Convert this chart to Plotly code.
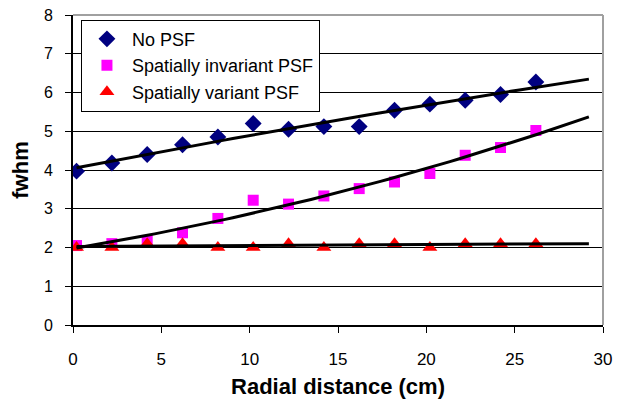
import numpy as np
import plotly.graph_objects as go

radial = [0.2, 2.2, 4.2, 6.2, 8.2, 10.2, 12.2, 14.2, 16.2, 18.2, 20.2, 22.2, 24.2, 26.2]
no_psf = [3.97, 4.18, 4.4, 4.65, 4.85, 5.2, 5.05, 5.12, 5.12, 5.54, 5.7, 5.8, 5.95, 6.27]
invariant = [2.05, 2.1, 2.18, 2.38, 2.75, 3.22, 3.12, 3.33, 3.52, 3.69, 3.91, 4.38, 4.58, 5.02]
variant = [2.0, 2.0, 2.1, 2.1, 2.0, 2.0, 2.1, 2.0, 2.1, 2.1, 2.0, 2.1, 2.1, 2.1]
trend_end = 29.2

fig = go.Figure()
fig.add_trace(go.Scatter(x=radial, y=no_psf, mode="markers", name="No PSF", legendgroup="a",
                         marker=dict(symbol="diamond", color="#000080", size=13)))
fig.add_trace(go.Scatter(x=radial, y=invariant, mode="markers", name="Spatially invariant PSF",
                         legendgroup="b",
                         marker=dict(symbol="square", color="#FF00FF", size=11)))
fig.add_trace(go.Scatter(x=radial, y=variant, mode="markers", name="Spatially variant PSF",
                         legendgroup="c",
                         marker=dict(symbol="triangle-up", color="#FF0000", size=13)))

xs = np.linspace(radial[0], trend_end, 60)
fits = []
for ys, deg in ((no_psf, 2), (invariant, 2), (variant, 1)):
    c = np.polyfit(radial, ys, deg)
    fits.append(np.polyval(c, xs))
for ys in fits:
    fig.add_trace(go.Scatter(x=xs, y=ys, mode="lines", showlegend=False,
                             line=dict(color="black", width=3), hoverinfo="skip"))

fig.update_layout(
    width=638, height=405,
    margin=dict(l=65, r=43, t=7, b=88),
    paper_bgcolor="white", plot_bgcolor="white",
    font=dict(family="Liberation Sans, Arial, sans-serif", color="black", size=17),
    legend=dict(x=0.015, y=0.985, xanchor="left", yanchor="top",
                bgcolor="white", bordercolor="black", borderwidth=1,
                font=dict(size=18), tracegroupgap=0, itemwidth=40),
    xaxis=dict(range=[0, 30], tickvals=[0, 5, 10, 15, 20, 25, 30], showgrid=False,
               showline=True, linecolor="black", linewidth=2, ticks="outside",
               ticklen=6, tickcolor="black", zeroline=False, ticklabeloverflow="allow",
               automargin=False, ticklabelstandoff=12,
               title=dict(text="<b>Radial distance (cm)</b>", font=dict(size=22), standoff=10)),
    yaxis=dict(range=[0, 8], tickvals=list(range(0, 9)), showgrid=True, gridcolor="black",
               gridwidth=1, showline=True, linecolor="black", linewidth=2, ticks="outside",
               ticklen=6, tickcolor="black", zeroline=False, ticklabeloverflow="allow",
               automargin=False, ticklabelstandoff=9, tickfont=dict(size=16),
               title=dict(text="<b>fwhm</b>", font=dict(size=22), standoff=12)),
    shapes=[dict(type="line", xref="paper", yref="paper", x0=0, x1=1, y0=1, y1=1,
                 line=dict(color="#A0A0A0", width=2)),
            dict(type="line", xref="paper", yref="paper", x0=1, x1=1, y0=0, y1=1,
                 line=dict(color="#A0A0A0", width=2))],
)

fig.write_html("out.html")
